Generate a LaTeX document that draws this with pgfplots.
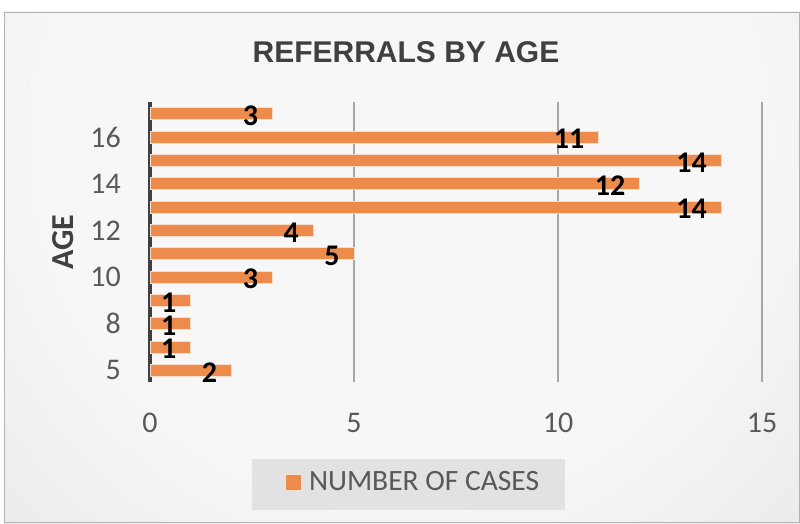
\documentclass[border=0pt]{standalone}
\usepackage{pgfplots}
\pgfplotsset{compat=1.18}
\usepackage{fontspec}
\setmainfont{Carlito}
\newfontfamily\titlefont{Liberation Sans}
\definecolor{barorange}{RGB}{237,139,77}
\definecolor{txtgray}{RGB}{89,89,89}
\definecolor{titlegray}{RGB}{64,64,64}
\definecolor{gridgray}{RGB}{166,166,166}
\definecolor{bginner}{RGB}{247,247,247}
\definecolor{bgouter}{RGB}{198,198,198}
\definecolor{legbg}{RGB}{226,226,226}
\pgfdeclareradialshading{bgshade}{\pgfpointorigin}{color(0bp)=(bginner); color(14bp)=(bginner); color(50bp)=(bgouter)}
\begin{document}
\begin{tikzpicture}[x=1pt,y=1pt]
\useasboundingbox (0,0) rectangle (800,523);
\fill[white] (0,0) rectangle (800,523);
\begin{scope}
\clip (4,0) rectangle (800,511);
\shade[shading=bgshade] (-220,-240) rectangle (1020,1000);
\end{scope}
\draw[gray!60, line width=1pt] (4.5,0.5) rectangle (799.5,510.5);
\fill[legbg] (252,13) rectangle (565,64);
\node[font=\titlefont\bfseries\fontsize{30}{36}\selectfont, text=titlegray] at (406,471) {REFERRALS BY AGE};
\begin{axis}[
  xbar,
  scale only axis,
  width=612pt, height=280pt,
  at={(150pt,141pt)}, anchor=south west,
  xmin=0, xmax=15, ymin=0.5, ymax=12.5,
  xtick={0,5,10,15},
  ytick={1,3,5,7,9,11},
  yticklabels={5,8,10,12,14,16},
  axis line style={draw=none},
  major tick length=0pt,
  xmajorgrids,
  grid style={gridgray, line width=1.5pt},
  extra x ticks={0}, extra x tick labels={},
  extra x tick style={grid style={titlegray, line width=3.5pt}},
  bar width=12pt,
  tick label style={font=\fontsize{30}{36}\selectfont, text=txtgray},
  /pgf/number format/assume math mode=true,
  xticklabel style={anchor=north, inner sep=0pt, yshift=-31pt},
  yticklabel style={anchor=east, inner sep=0pt, xshift=-29pt},
  ylabel={AGE},
  ylabel style={at={(axis description cs:-0.142,0.5)}, anchor=center, font=\bfseries\fontsize{32}{36}\selectfont, text=titlegray},
  nodes near coords,
  nodes near coords style={font=\bfseries\fontsize{30}{34}\selectfont, text=black, anchor=east, inner sep=0pt, xshift=-14pt, yshift=-2pt},
  legend style={at={(axis description cs:0.2206,-0.357)}, anchor=west, draw=none, fill=none, inner sep=0pt, font=\fontsize{29.5}{34}\selectfont, text=txtgray},
  legend image code/.code={\draw[fill=barorange, draw=white!75!barorange] (0pt,-8pt) rectangle (16pt,8pt); \path (21pt,0pt);},
]
\addplot[fill=barorange, draw=white!70!barorange, line width=0.8pt]
  coordinates {(2,1) (1,2) (1,3) (1,4) (3,5) (5,6) (4,7) (14,8) (12,9) (14,10) (11,11) (3,12)};
\addlegendentry{NUMBER OF CASES}
\end{axis}
\end{tikzpicture}
\end{document}
